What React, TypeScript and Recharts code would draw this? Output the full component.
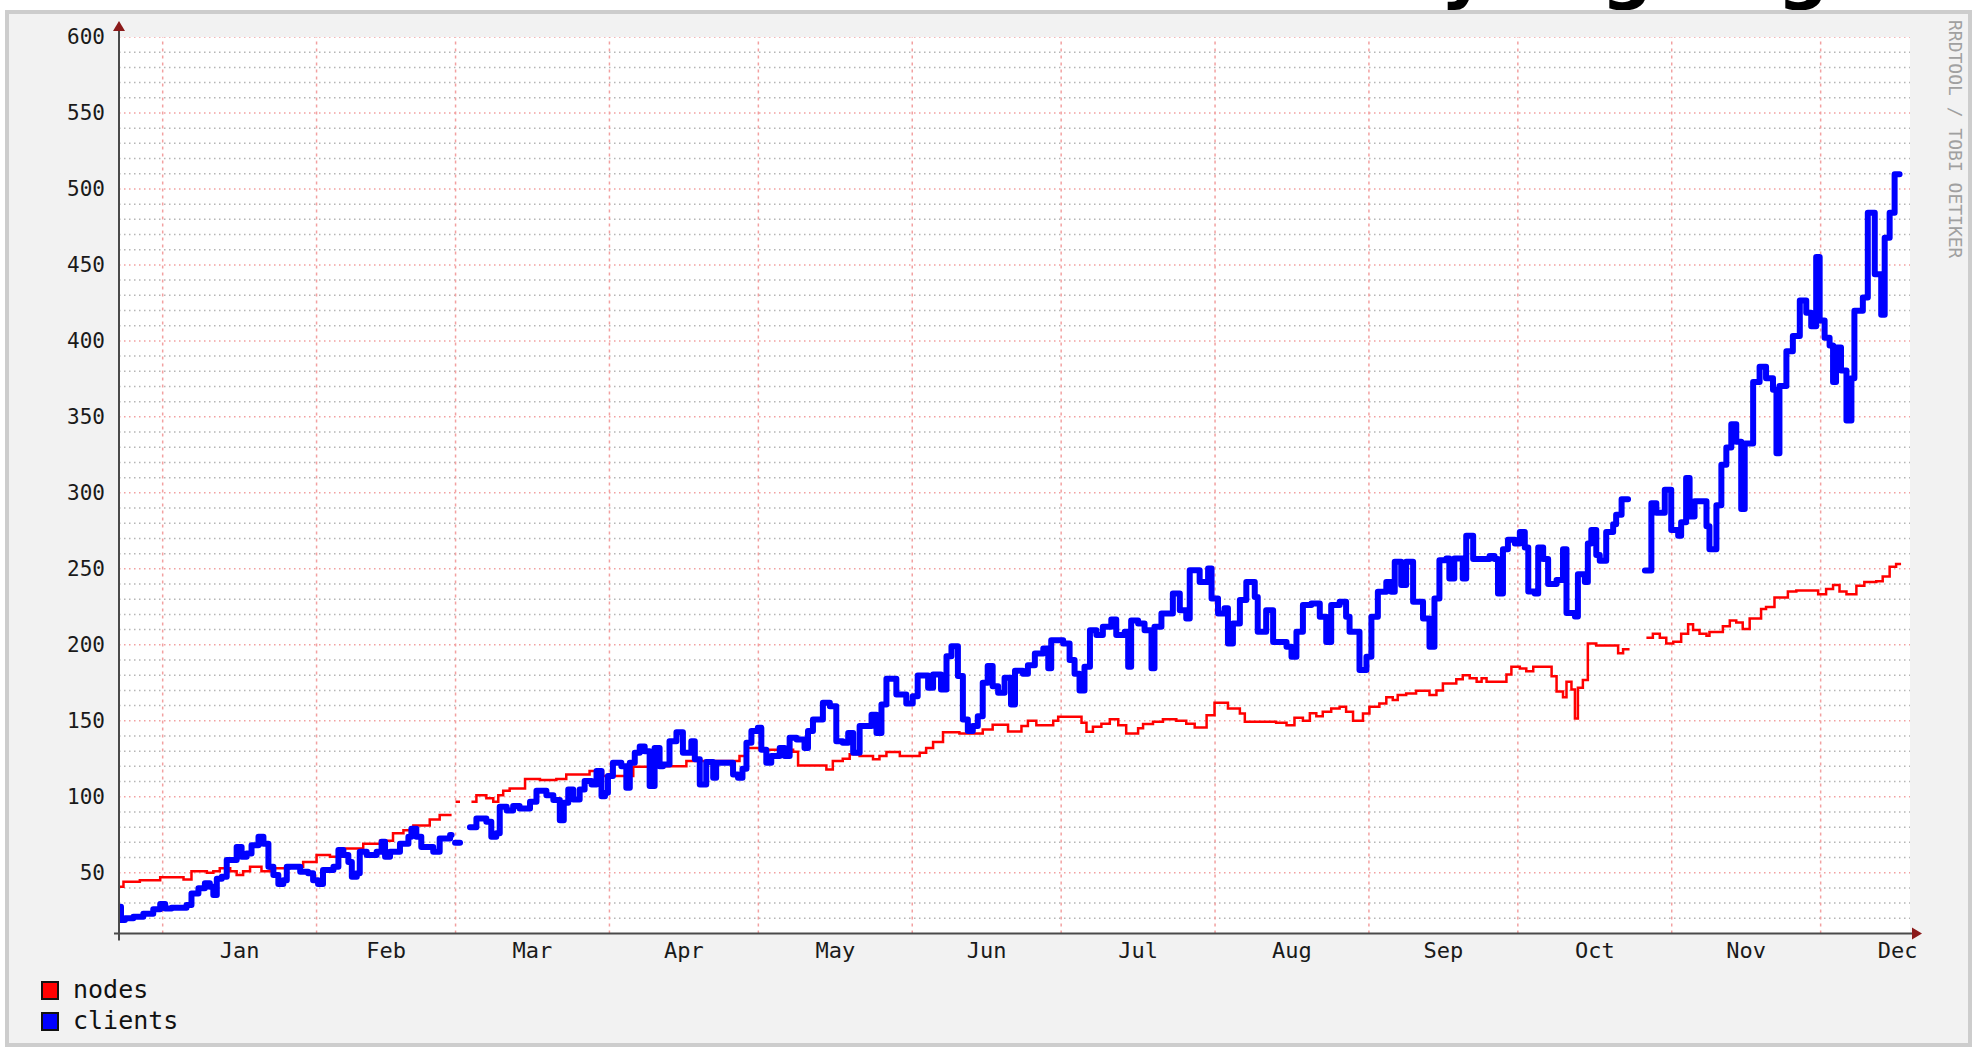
import React from 'react';
import { LineChart, Line, XAxis, YAxis, ReferenceLine } from 'recharts';

// ---- axis / tick definitions ----
const monthNames = ['Jan', 'Feb', 'Mar', 'Apr', 'May', 'Jun', 'Jul', 'Aug', 'Sep', 'Oct', 'Nov', 'Dec'];
const monthStartDays = [0, 31, 59, 90, 120, 151, 181, 212, 243, 273, 304, 334];
const monthLabelDays = [15.5, 45, 74.5, 105, 135.5, 166, 196.5, 227.5, 258, 288.5, 319, 349.5];
const yTicks = [50, 100, 150, 200, 250, 300, 350, 400, 450, 500, 550, 600];
const yMinorTicks: number[] = [];
for (let v = 20; v < 600; v += 10) if (v % 50 !== 0) yMinorTicks.push(v);

// ---- series: day-of-year (x) and value ----
const nodesDays = [
  -8.6, -7.9, -4.6, -0.5, 4.2, 5.8, 8.9, 10.2, 11.5, 13.6, 14.9, 16.2, 17.6, 19.9, 21.6, 25.6, 28.3, 31.0, 33.7, 36.4,
  40.4, 43.8, 46.4, 48.5, 50.5, 53.8, 55.8, 58.2, 58.4, 59.0, 59.9, 60.2, 62.2, 63.2, 65.2, 66.6, 67.6, 68.6, 69.9, 73.0,
  76.0, 79.3, 81.3, 86.0, 88.7, 94.8, 99.5, 101.5, 105.5, 116.2, 117.6, 120.3, 127.0, 128.0, 133.7, 135.0, 137.0, 138.4, 140.4, 143.1,
  144.4, 145.8, 148.5, 152.5, 153.8, 155.2, 157.2, 160.5, 165.2, 167.2, 170.3, 173.0, 174.3, 176.0, 179.4, 180.4, 185.1, 186.1, 187.4, 189.1,
  190.8, 192.5, 194.1, 196.5, 197.5, 199.5, 201.5, 204.2, 206.2, 207.9, 210.3, 211.9, 214.6, 217.0, 218.0, 224.3, 226.4, 228.0, 229.7, 231.1,
  232.4, 233.7, 235.4, 237.1, 238.4, 239.8, 241.8, 243.1, 245.1, 246.5, 247.8, 248.8, 250.5, 252.5, 255.2, 256.6, 257.9, 260.6, 261.9, 263.3,
  264.7, 265.7, 266.7, 270.7, 271.7, 273.4, 274.7, 276.1, 279.8, 280.8, 282.1, 282.8, 283.8, 284.5, 285.1, 286.1, 287.1, 288.8, 293.2, 294.2,
  295.5, 295.7, 298.9, 300.2, 301.6, 302.9, 304.3, 305.9, 307.3, 308.3, 309.6, 311.0, 311.6, 314.3, 315.7, 317.0, 318.3, 319.7, 322.0, 323.0,
  324.7, 327.4, 329.1, 333.5, 335.1, 336.5, 337.8, 339.2, 341.2, 342.8, 345.2, 346.5, 347.9, 349.2, 350.2,
];
const nodesValues: (number | null)[] = [
  40.8, 44, 45, 47, 45.6, 51, 50, 51, 53, 51, 48.5, 51, 54, 51, 53, 54, 57, 61.6, 60.5, 66,
  69, 71, 76, 78, 81, 85, 88, 88, null, 96.7, 96.7, null, 96.7, 101, 99, 96.7, 101, 104, 105.5, 111.6,
  111, 111.6, 114.7, 117, 113.6, 119.7, 121, 120, 123.5, 126.8, 132, 131, 129.6, 120.6, 118, 123.5, 125, 127.9, 126.8, 124.6,
  126.8, 129.4, 126.8, 129, 132, 136, 142.5, 141.7, 144.3, 147.4, 143, 146.5, 150, 147, 150, 152.6, 148.7, 142.8, 146, 148,
  151, 147, 141.7, 145, 147.8, 149.3, 151, 150, 148, 145.6, 153.7, 161.8, 158, 154.8, 149.3, 148.7, 147, 152, 150, 155,
  153, 156, 158, 159.2, 156, 150, 154.8, 159.2, 161.4, 165.4, 163.6, 166.9, 168, 169.7, 166.9, 170, 174.6, 177.4, 180, 178,
  175.6, 178, 175.6, 180.5, 185.6, 184.4, 182.6, 185.6, 179.3, 169.2, 165.4, 175.6, 170.5, 151.5, 171.7, 176.8, 200.8, 199.6, 194.5, 197.1,
  197.1, null, 204.6, 207.2, 204.6, 200.8, 202, 207.2, 213.5, 209.7, 207.2, 205.9, 208.4, 212.2, 216, 214.7, 210.4, 217.3, 223.6, 224.9,
  231.2, 235, 235.8, 233.2, 236.8, 239.3, 235, 233.2, 238.8, 241.3, 241.8, 245, 251.3, 253.2, 253.2,
];

const clientsDays = [
  -8.6, -8.4, -7.6, -5.9, -3.9, -1.9, -0.5, 0.5, 1.8, 4.8, 5.8, 7.2, 8.5, 9.5, 10.2, 10.9, 11.9, 12.9, 14.9, 15.9,
  16.9, 17.9, 19.3, 20.3, 21.3, 22.3, 23.3, 24.3, 25.0, 27.7, 29.3, 30.3, 31.3, 32.3, 34.4, 35.4, 36.4, 37.4, 38.1, 39.1,
  39.7, 41.1, 43.1, 44.1, 44.8, 45.8, 47.8, 49.5, 50.1, 51.1, 52.1, 54.5, 55.8, 57.9, 58.2, 58.4, 58.9, 59.9, 60.1, 61.9,
  63.2, 65.2, 66.2, 67.2, 67.9, 69.3, 70.6, 71.9, 74.0, 75.3, 77.3, 78.7, 80.0, 80.8, 81.7, 82.7, 84.0, 85.0, 86.4, 87.4,
  88.4, 89.1, 89.7, 90.7, 92.4, 93.4, 94.1, 95.1, 96.1, 97.1, 98.1, 99.1, 100.1, 100.8, 102.1, 103.5, 104.8, 106.5, 107.2, 108.2,
  109.5, 110.9, 111.5, 114.9, 115.9, 116.8, 117.6, 118.6, 119.9, 120.6, 121.6, 122.6, 124.3, 125.3, 126.3, 127.7, 129.3, 130.0, 131.0, 133.0,
  134.4, 135.7, 137.0, 138.1, 139.1, 140.4, 142.8, 143.8, 144.8, 145.8, 147.8, 149.8, 151.1, 152.1, 154.2, 155.2, 156.8, 157.9, 158.9, 160.2,
  161.2, 162.2, 163.2, 164.2, 165.2, 166.2, 167.2, 168.3, 169.6, 170.9, 171.7, 173.3, 174.3, 175.7, 177.4, 178.4, 179.0, 181.4, 182.7, 183.7,
  184.7, 185.7, 186.8, 188.1, 189.4, 191.1, 192.1, 193.8, 194.5, 195.1, 196.5, 197.8, 199.2, 199.8, 201.2, 203.5, 204.9, 206.2, 206.9, 208.9,
  210.6, 211.3, 212.6, 213.9, 214.6, 215.6, 217.0, 218.3, 220.0, 220.6, 222.3, 223.7, 226.4, 227.4, 228.4, 229.7, 231.4, 233.1, 234.4, 235.4,
  237.1, 238.4, 239.1, 241.1, 242.5, 243.5, 244.8, 246.5, 247.5, 248.2, 249.5, 250.5, 251.9, 253.9, 255.2, 256.2, 257.2, 258.6, 259.2, 260.2,
  261.9, 262.6, 264.0, 267.3, 268.3, 269.0, 270.0, 271.0, 272.4, 273.4, 274.4, 275.1, 276.4, 277.1, 278.1, 279.1, 280.8, 282.1, 282.8, 284.5,
  285.1, 286.5, 287.1, 287.8, 288.8, 289.5, 290.8, 292.2, 292.8, 293.9, 295.2, 295.4, 298.6, 299.9, 300.9, 302.6, 303.9, 305.3, 305.9, 306.9,
  307.6, 308.6, 311.0, 311.6, 313.0, 314.0, 315.0, 316.0, 317.0, 318.0, 318.7, 320.4, 321.7, 323.0, 324.4, 325.1, 325.7, 327.1, 328.4, 329.8,
  331.1, 332.1, 333.1, 333.8, 334.8, 335.8, 336.5, 337.1, 338.1, 339.2, 340.2, 340.8, 342.5, 343.5, 344.9, 346.2, 346.9, 347.9, 348.9, 349.9,
];
const clientsValues: (number | null)[] = [
  27.6, 18.9, 20, 21, 23, 26, 29.4, 26.5, 27, 28.7, 36.4, 39.7, 43, 40.8, 35.3, 46, 47.4, 58.3, 67, 60.5,
  62.7, 68, 73.7, 69, 54, 48.5, 42.5, 45, 54, 50.7, 49.6, 45, 42.5, 51.8, 54, 65, 61.6, 57, 47.4, 49.6,
  63.8, 61.6, 63.8, 70.4, 60.5, 63.8, 69, 73.7, 79, 73.7, 67, 63.8, 72.6, 74.8, 74.8, null, 69.7, 69.7, null, 80,
  85.7, 83.5, 73.7, 76, 93.4, 91, 93.9, 92.3, 96.7, 104, 101, 97.8, 84.6, 96, 104.8, 98.2, 104.8, 110.3, 108, 117,
  100.4, 102.6, 113.6, 122.4, 120, 106, 122.4, 129, 133, 130, 107, 132, 120, 121.3, 136.6, 142.5, 129, 136.6, 124.6, 108,
  122.8, 112.5, 122.4, 114.7, 112.5, 118.4, 135.5, 143.2, 145.4, 131, 122.4, 126.8, 132, 126.8, 138.8, 137.7, 132, 143.2, 150.9, 161.8,
  159.6, 136.6, 135.5, 142, 129, 146.5, 154, 142, 160.7, 177.6, 167.3, 161.4, 166.2, 179.8, 171.7, 180.5, 170.6, 192.5, 199, 179.4,
  150.9, 143.2, 146.5, 153, 175, 186, 172.8, 168.4, 178.3, 160.7, 182.9, 181, 186.6, 194.3, 197.6, 184.5, 203, 200.9, 190, 181,
  170, 185.5, 209.6, 206.4, 211.8, 216.7, 206.4, 208.6, 185.5, 216, 214, 209.6, 184.5, 211.8, 220.6, 233.8, 222.8, 217.3, 249, 241.4,
  250.2, 230.5, 220.6, 224, 200.9, 214, 229.4, 241.4, 231.5, 208.6, 222.8, 201.8, 198.7, 192.1, 208.6, 226.2, 227.2, 218.4, 201.8, 226.2,
  228.4, 218.4, 208.6, 183.4, 192.1, 218.4, 234.9, 241.4, 234.9, 254.6, 239.3, 254.6, 228.4, 217.3, 198.7, 230.5, 255.7, 256.8, 243.6, 256.8,
  243.6, 271.7, 256.5, 258.5, 256.5, 233.7, 262.8, 269.2, 266.7, 274.2, 264.1, 235, 233.7, 264.1, 256.5, 240, 242.6, 262.8, 221, 218.6,
  246.4, 241.3, 266.7, 275.5, 259.1, 255.3, 274.2, 279.3, 285.6, 295.8, 295.8, null, 248.9, 293.2, 286.9, 302, 275.5, 271.7, 280.6, 309.7,
  284.4, 294.5, 278, 262.8, 291.9, 318.5, 329.9, 345.1, 333.7, 289.4, 332.4, 373, 383, 375.5, 367.9, 326.1, 370.4, 393.2, 403.3, 426.6,
  418.5, 409.6, 455.2, 413.4, 402, 397, 372.9, 395.7, 380.5, 347.6, 375.5, 419.8, 428.6, 484.3, 443.8, 417.2, 467.9, 484.3, 509.6, 509.6,
];

const nodesData = nodesDays.map((d, i) => ({ d, v: nodesValues[i] }));
const clientsData = clientsDays.map((d, i) => ({ d, v: clientsValues[i] }));

const legendItems = [
  { label: 'nodes', color: '#ff0000' },
  { label: 'clients', color: '#0000ff' },
];

const FONT = '"DejaVu Sans Mono", monospace';
const W = 1977;
const H = 1047;
const PLOT_L = 119;
const PLOT_R = 1910;
const PLOT_T = 37;
const PLOT_B = 933.5;
const Y_AXIS_W = 60;
const X_AXIS_H = 40;

export default function App() {
  return (
    <div style={{ position: 'absolute', left: 0, top: 0, width: W, height: H, background: '#ffffff', overflow: 'hidden' }}>
      {/* bottom of a title that lies above the visible area */}
      <svg style={{ position: 'absolute', left: 0, top: 0 }} width={W} height={20}>
        <g fontFamily='"DejaVu Sans", sans-serif' fontWeight="bold" fontSize={72} fill="#000">
          <text x={1464} y={-5} textAnchor="middle">y</text>
          <text x={1627} y={-5} textAnchor="middle">g</text>
          <text x={1803} y={-5} textAnchor="middle">g</text>
        </g>
      </svg>
      {/* outer frame */}
      <div
        style={{
          position: 'absolute', left: 5, top: 10, width: W - 10 - 8, height: H - 10 - 8,
          background: '#f2f2f2', border: '4px solid #cdcdcd',
        }}
      />
      {/* canvas */}
      <div
        style={{
          position: 'absolute', left: PLOT_L, top: PLOT_T, width: PLOT_R - PLOT_L, height: PLOT_B - PLOT_T,
          background: '#ffffff',
        }}
      />
      <div style={{ position: 'absolute', left: 0, top: 0 }}>
        <LineChart
          width={W}
          height={H}
          margin={{ left: PLOT_L - Y_AXIS_W, right: W - PLOT_R, top: PLOT_T, bottom: H - PLOT_B - X_AXIS_H }}
        >
          <XAxis
            type="number"
            dataKey="d"
            domain={[-8.8, 352]}
            allowDataOverflow
            ticks={monthLabelDays}
            interval={0}
            tickFormatter={(v: number) => monthNames[monthLabelDays.indexOf(v)] ?? ''}
            tickLine={false}
            tickSize={0}
            tickMargin={9}
            height={X_AXIS_H}
            axisLine={false}
            tick={{ fill: '#1a1a1a', fontFamily: FONT, fontSize: 22 }}
          />
          <YAxis
            type="number"
            domain={[10, 600]}
            allowDataOverflow
            ticks={yTicks}
            interval={0}
            tickLine={false}
            tickSize={0}
            tickMargin={14}
            width={Y_AXIS_W}
            axisLine={false}
            tick={{ fill: '#1a1a1a', fontFamily: FONT, fontSize: 21 }}
          />
          {yMinorTicks.map((v) => (
            <ReferenceLine key={'mn' + v} y={v} stroke="#b5b5b5" strokeWidth={1.5} strokeDasharray="1.5 3.5" ifOverflow="hidden" />
          ))}
          {yTicks.map((v) => (
            <ReferenceLine key={'mj' + v} y={v} stroke="#f2a0a0" strokeWidth={1.5} strokeDasharray="1.5 3.5" ifOverflow="hidden" />
          ))}
          {monthStartDays.map((d) => (
            <ReferenceLine key={'vx' + d} x={d} stroke="#f2a0a0" strokeWidth={1.5} strokeDasharray="3 4" ifOverflow="hidden" />
          ))}
          <Line
            data={nodesData}
            dataKey="v"
            type="stepAfter"
            stroke="#ff0000"
            strokeWidth={2.5}
            dot={false}
            activeDot={false}
            isAnimationActive={false}
            connectNulls={false}
            strokeLinejoin="miter"
          />
          <Line
            data={clientsData}
            dataKey="v"
            type="stepAfter"
            stroke="#0000ff"
            strokeWidth={6}
            dot={false}
            activeDot={false}
            isAnimationActive={false}
            connectNulls={false}
            strokeLinejoin="round"
            strokeLinecap="round"
          />
        </LineChart>
      </div>
      {/* axes lines and arrows */}
      <svg style={{ position: 'absolute', left: 0, top: 0 }} width={W} height={H}>
        <line x1={PLOT_L} y1={PLOT_B + 7} x2={PLOT_L} y2={28} stroke="#4a4a4a" strokeWidth={2} />
        <line x1={PLOT_L - 5} y1={PLOT_B} x2={PLOT_R + 2} y2={PLOT_B} stroke="#4a4a4a" strokeWidth={2} />
        <polygon points={`${PLOT_L - 6},31 ${PLOT_L + 6},31 ${PLOT_L},21`} fill="#8b1a1a" />
        <polygon points={`${PLOT_R + 2},${PLOT_B - 6} ${PLOT_R + 2},${PLOT_B + 6} ${PLOT_R + 12},${PLOT_B}`} fill="#8b1a1a" />
      </svg>
      {/* watermark */}
      <div
        style={{
          position: 'absolute', left: 1945, top: 20, transformOrigin: 'left top', transform: 'rotate(90deg) translateY(-100%)',
          whiteSpace: 'nowrap', fontFamily: FONT, fontSize: 18, color: '#a0a0a0', lineHeight: '20px',
        }}
      >
        RRDTOOL / TOBI OETIKER
      </div>
      {/* legend */}
      {legendItems.map((it, i) => (
        <div key={it.label} style={{ position: 'absolute', left: 41, top: 979 + i * 31, display: 'flex', alignItems: 'center' }}>
          <div style={{ width: 18, height: 19, background: it.color, border: '2px solid #111', boxSizing: 'border-box' }} />
          <span style={{ marginLeft: 14, fontFamily: FONT, fontSize: 25, color: '#111', lineHeight: '22px' }}>{it.label}</span>
        </div>
      ))}
    </div>
  );
}
